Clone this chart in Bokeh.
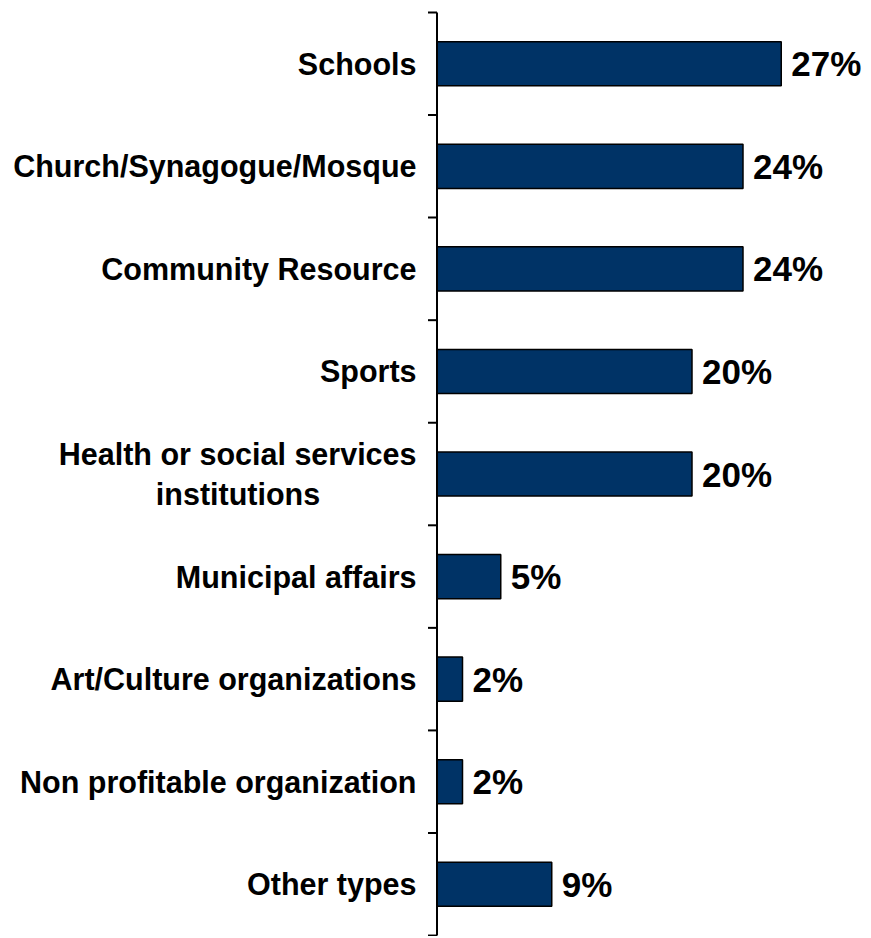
from bokeh.plotting import figure
from bokeh.models import Range1d, ColumnDataSource
from bokeh.core.properties import value
from bokeh.embed import file_html
from bokeh.resources import INLINE

categories = ["Schools", "Church/Synagogue/Mosque", "Community Resource", "Sports",
              "Health or social services institutions", "Municipal affairs",
              "Art/Culture organizations", "Non profitable organization", "Other types"]
values = [27, 24, 24, 20, 20, 5, 2, 2, 9]
value_labels = ["27%", "24%", "24%", "20%", "20%", "5%", "2%", "2%", "9%"]

PX = 12.75          # pixels per percent
AXIS_X = 436.5      # axis position within the figure, px
W, H = 868, 936
ROW = 102.56        # px per category
TOP = 12.0          # axis top offset within the figure, px

x_start = -AXIS_X / PX
x_end = (W - AXIS_X) / PX
y_top = -TOP / ROW
y_bot = (H - TOP) / ROW

p = figure(width=W, height=H, output_backend="svg", toolbar_location=None,
           x_range=Range1d(x_start, x_end), y_range=Range1d(y_bot, y_top),
           min_border=0)
p.axis.visible = False
p.grid.visible = False
p.outline_line_color = None
p.background_fill_color = "white"

n = len(categories)
ys = [i + 0.5 for i in range(n)]
src = ColumnDataSource(dict(y=ys, v=values, lab=value_labels))
p.hbar(y="y", left=0, right="v", height=0.43, source=src,
       fill_color="#003366", line_color="black", line_width=1.5)

# axis line and ticks
p.segment(x0=[0], y0=[0], x1=[0], y1=[n], line_color="black", line_width=2)
tick_len = 9 / PX
p.segment(x0=[-tick_len] * (n + 1), y0=list(range(n + 1)), x1=[0] * (n + 1),
          y1=list(range(n + 1)), line_color="black", line_width=2)

# value labels
p.text(x="v", y="y", text="lab", source=src, x_offset=10,
       text_align="left", text_baseline="middle",
       text_font=value("Liberation Sans"), text_font_style="bold",
       text_font_size="35px", text_color="black")

FS = "30.5px"
lab_x = -(436.5 - 416) / PX
single_y, single_t = [], []
for i, c in enumerate(categories):
    if c != "Health or social services institutions":
        single_y.append(ys[i])
        single_t.append(c)
p.text(x=[lab_x] * len(single_y), y=single_y, text=single_t,
       text_align="right", text_baseline="middle",
       text_font=value("Liberation Sans"), text_font_style="bold",
       text_font_size=FS, text_color="black")

hi = categories.index("Health or social services institutions")
p.text(x=[lab_x], y=[ys[hi] - 0.195], text=["Health or social services"],
       text_align="right", text_baseline="middle",
       text_font=value("Liberation Sans"), text_font_style="bold",
       text_font_size=FS, text_color="black")
center_x = -(436.5 - 237.5) / PX
p.text(x=[center_x], y=[ys[hi] + 0.195], text=["institutions"],
       text_align="center", text_baseline="middle",
       text_font=value("Liberation Sans"), text_font_style="bold",
       text_font_size=FS, text_color="black")

open("out.html", "w").write(file_html(p, INLINE))
